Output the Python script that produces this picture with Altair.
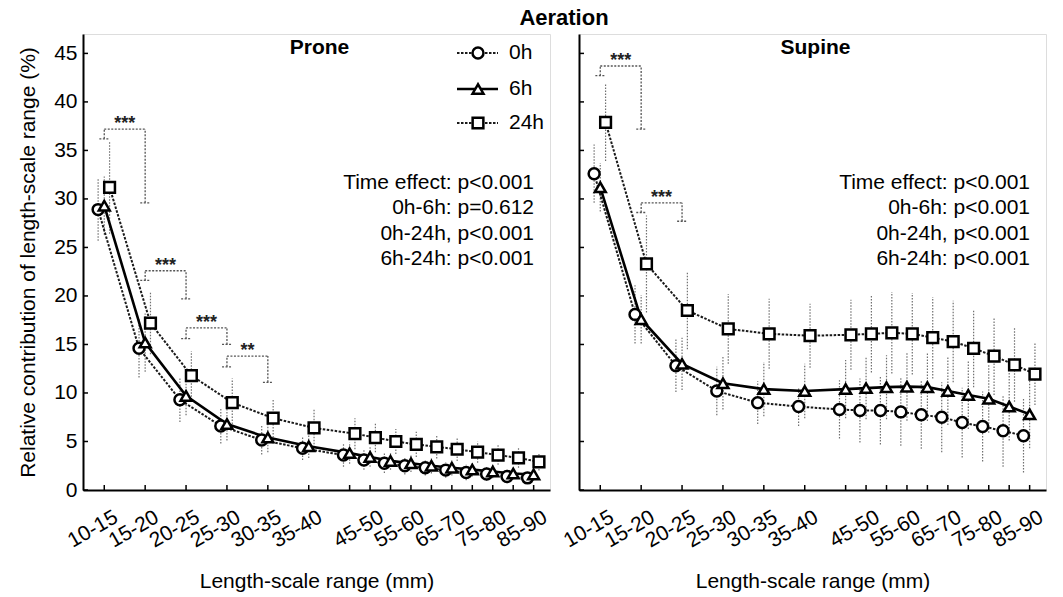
import altair as alt
import pandas as pd

# ---------------- data ----------------
categories = ["10-15", "15-20", "20-25", "25-30", "30-35", "35-40", "40-45", "45-50",
              "50-55", "55-60", "60-65", "65-70", "70-75", "75-80", "80-85", "85-90"]
cat_pos = [0, 1, 2, 3, 4, 5, 6, 6.5, 7, 7.5, 8, 8.5, 9, 9.5, 10, 10.5]
label_cats = ["10-15", "15-20", "20-25", "25-30", "30-35", "35-40",
              "45-50", "55-60", "65-70", "75-80", "85-90"]
series_names = ["0h", "6h", "24h"]

prone_0h = [28.9, 14.6, 9.3, 6.6, 5.15, 4.3, 3.6, 3.1, 2.75, 2.5, 2.3, 2.05, 1.8, 1.65, 1.4, 1.25]
prone_6h = [29.3, 15.2, 9.7, 6.8, 5.4, 4.5, 3.8, 3.4, 3.0, 2.75, 2.5, 2.3, 2.1, 1.9, 1.7, 1.6]
prone_24h = [31.2, 17.2, 11.8, 9.0, 7.4, 6.4, 5.8, 5.4, 5.0, 4.7, 4.45, 4.2, 3.9, 3.6, 3.3, 2.9]
prone_sd_0h = [3.2, 3.0, 2.3, 1.8, 1.5, 1.2, 1.2, 1.0, 1.0, 0.9, 0.8, 0.8, 0.8, 0.7, 0.7, 0.6]
prone_sd_6h = [3.0, 3.0, 2.0, 1.7, 1.5, 1.2, 1.1, 1.0, 0.9, 0.9, 0.8, 0.8, 0.7, 0.7, 0.6, 0.6]
prone_sd_24h = [4.8, 3.2, 2.5, 2.5, 2.0, 2.0, 1.6, 1.5, 1.3, 1.3, 1.2, 1.2, 1.1, 1.0, 1.0, 0.9]

supine_0h = [32.6, 18.1, 12.8, 10.2, 9.0, 8.6, 8.3, 8.2, 8.2, 8.05, 7.75, 7.5, 6.95, 6.55, 6.1, 5.6]
supine_6h = [31.2, 17.6, 13.0, 11.0, 10.4, 10.2, 10.4, 10.5, 10.6, 10.65, 10.6, 10.2, 9.8, 9.4, 8.6, 7.8]
supine_24h = [37.9, 23.3, 18.5, 16.6, 16.1, 15.9, 16.0, 16.1, 16.2, 16.1, 15.7, 15.3, 14.6, 13.8, 12.9, 11.95]
supine_sd_0h = [3.0, 3.0, 2.7, 2.5, 2.2, 2.0, 3.0, 3.3, 3.5, 3.5, 3.5, 3.6, 3.6, 3.6, 3.7, 3.8]
supine_sd_6h = [2.5, 2.5, 2.7, 2.7, 2.8, 2.8, 3.0, 3.2, 3.3, 3.5, 3.5, 3.5, 3.5, 3.5, 3.5, 3.5]
supine_sd_24h = [4.0, 5.0, 4.0, 3.6, 3.6, 3.3, 3.6, 4.0, 4.2, 4.2, 4.2, 4.2, 4.0, 4.0, 3.8, 3.2]

prone_brk_from = ["10-15", "15-20", "20-25", "25-30"]
prone_brk_to = ["15-20", "20-25", "25-30", "30-35"]
prone_brk_top = [37.2, 22.6, 16.7, 13.8]
prone_brk_low_from = [36.2, 21.6, 15.6, 12.7]
prone_brk_low_to = [29.6, 19.7, 15.0, 11.1]
prone_brk_stars = ["***", "***", "***", "**"]

supine_brk_from = ["10-15", "15-20"]
supine_brk_to = ["15-20", "20-25"]
supine_brk_top = [43.7, 29.6]
supine_brk_low_from = [42.7, 28.6]
supine_brk_low_to = [37.2, 27.7]
supine_brk_stars = ["***", "***"]

prone_stats = ["Time effect: p<0.001", "0h-6h: p=0.612", "0h-24h, p<0.001", "6h-24h: p<0.001"]
supine_stats = ["Time effect: p<0.001", "0h-6h: p<0.001", "0h-24h, p<0.001", "6h-24h: p<0.001"]

y_ticks = [0, 5, 10, 15, 20, 25, 30, 35, 40, 45]

# ---------------- style ----------------
FONT = "Liberation Sans"
W, H = 467, 456
XDOM = [-0.52, 10.9]
YDOM = [0, 47]
FS = 21

styles = {
    "0h": dict(shape="circle", dash=[2.5, 1.5], width=2.0, offset=-0.15, color="#1a1a1a", size=120),
    "6h": dict(shape="triangle-up", dash=None, width=2.6, offset=0.0, color="#000000", size=120),
    "24h": dict(shape="square", dash=[2.5, 1.5], width=2.0, offset=0.13, color="#1a1a1a", size=115),
}

pos_of = dict(zip(categories, cat_pos))
label_pos = [pos_of[c] for c in label_cats]
label_expr = "[" + ",".join("'%s'" % c for c in label_cats) + "][indexof([" + \
    ",".join(str(p) for p in label_pos) + "], datum.value)]"


def xaxis():
    return alt.Axis(values=label_pos, labelExpr=label_expr, title="Length-scale range (mm)",
                    ticks=False, grid=False, domainColor="black", domainWidth=2,
                    labelAngle=330, labelAlign="right", labelBaseline="top",
                    labelPadding=16, labelOffset=6, labelFontSize=FS, labelFont=FONT,
                    labelColor="black", labelOverlap=False, labelFlush=False,
                    titleFontSize=FS, titleFont=FONT, titleFontWeight="normal",
                    titleColor="black", titlePadding=19)


def yaxis(show):
    if show:
        return alt.Axis(values=y_ticks, title="Relative contribution of length-scale range (%)",
                        ticks=False, grid=False, domainColor="black", domainWidth=2,
                        labelFontSize=FS, labelFont=FONT, labelColor="black", labelPadding=6,
                        titleFontSize=FS, titleFont=FONT, titleFontWeight="normal",
                        titleColor="black", titlePadding=15)
    return alt.Axis(values=y_ticks, labels=False, ticks=False, grid=False, title=None,
                    domainColor="black", domainWidth=2)


def panel(vals, sds, brk, stats, title, show_y, legend=False, super_title=False):
    xs = alt.Scale(domain=XDOM, nice=False, zero=False)
    ys = alt.Scale(domain=YDOM, nice=False, zero=False)

    def X(f):
        return alt.X(f"{f}:Q", scale=xs, axis=xaxis())

    def Y(f):
        return alt.Y(f"{f}:Q", scale=ys, axis=yaxis(show_y))

    rows = []
    for s in series_names:
        for c, p, v, sd in zip(categories, cat_pos, vals[s], sds[s]):
            rows.append(dict(series=s, cat=c, x=p + styles[s]["offset"], y=v, lo=v - sd, hi=v + sd))
    df = pd.DataFrame(rows)

    layers = []
    # error bars
    layers.append(alt.Chart(df).mark_rule(color="#707070", strokeWidth=1.2, strokeDash=[1.5, 1.5])
                  .encode(x=X("x"), y=Y("lo"), y2="hi"))

    # brackets
    bdf = pd.DataFrame(dict(f=[pos_of[c] for c in brk[0]], t=[pos_of[c] for c in brk[1]],
                            top=brk[2], lf=brk[3], lt=brk[4], stars=brk[5]))
    bstyle = dict(color="#555555", strokeWidth=1.3, strokeDash=[2, 1.5])
    bb = alt.Chart(bdf)
    layers.append(bb.mark_rule(**bstyle).encode(x=X("f"), x2="t", y=Y("top")))
    layers.append(bb.mark_rule(**bstyle).encode(x=X("f"), y=Y("lf"), y2="top"))
    layers.append(bb.mark_rule(**bstyle).encode(x=X("t"), y=Y("lt"), y2="top"))
    layers.append(bb.transform_calculate(a="datum.f-0.12", b="datum.f+0.12")
                  .mark_rule(**bstyle).encode(x=X("a"), x2="b", y=Y("lf")))
    layers.append(bb.transform_calculate(a="datum.t-0.12", b="datum.t+0.12")
                  .mark_rule(**bstyle).encode(x=X("a"), x2="b", y=Y("lt")))
    layers.append(bb.transform_calculate(m="(datum.f+datum.t)/2")
                  .mark_text(font=FONT, fontSize=18, fontWeight="bold", baseline="alphabetic",
                             color="#222222")
                  .encode(x=X("m"), y=Y("top"), text="stars:N"))

    # lines and points
    for s in series_names:
        st = styles[s]
        lk = dict(color=st["color"], strokeWidth=st["width"])
        if st["dash"]:
            lk["strokeDash"] = st["dash"]
        sub = alt.Chart(df).transform_filter(alt.datum.series == s)
        layers.append(sub.mark_line(**lk).encode(x=X("x"), y=Y("y")))
    for s in series_names:
        st = styles[s]
        sub = alt.Chart(df).transform_filter(alt.datum.series == s)
        layers.append(sub.mark_point(shape=st["shape"], size=st["size"], filled=True, fill="white",
                                     stroke="black", strokeWidth=2.5, opacity=1)
                      .encode(x=X("x"), y=Y("y")))

    # inward ticks
    tdf = pd.DataFrame(dict(pos=cat_pos))
    layers.append(alt.Chart(tdf).mark_rule(color="black", strokeWidth=1.5)
                  .encode(x=X("pos"), y=alt.value(H), y2=alt.value(H - 5)))
    ydf = pd.DataFrame(dict(v=y_ticks))
    layers.append(alt.Chart(ydf).mark_rule(color="black", strokeWidth=1.5)
                  .encode(y=Y("v"), x=alt.value(0), x2=alt.value(5)))

    # stats text
    for i, line in enumerate(stats):
        layers.append(alt.Chart(pd.DataFrame({"t": [line]})).mark_text(
            font=FONT, fontSize=FS, align="right", baseline="middle", color="black")
            .encode(x=alt.value(451), y=alt.value(149 + i * 25.4), text="t:N"))

    # panel title
    layers.append(alt.Chart(pd.DataFrame({"t": [title]})).mark_text(
        font=FONT, fontSize=FS, fontWeight="bold", align="center", baseline="middle", color="black")
        .encode(x=alt.value(W / 2 + 3), y=alt.value(14), text="t:N"))

    if legend:
        ly = [19, 55, 89]
        for i, s in enumerate(series_names):
            st = styles[s]
            ldf = pd.DataFrame({"series": [s]})
            lk = dict(color=st["color"], strokeWidth=st["width"])
            if st["dash"]:
                lk["strokeDash"] = st["dash"]
            layers.append(alt.Chart(ldf).mark_rule(**lk)
                          .encode(x=alt.value(374), x2=alt.value(415), y=alt.value(ly[i])))
            layers.append(alt.Chart(ldf).mark_point(shape=st["shape"], size=st["size"], filled=True,
                                                   fill="white", stroke="black", strokeWidth=2.5,
                                                   opacity=1)
                          .encode(x=alt.value(395), y=alt.value(ly[i])))
            layers.append(alt.Chart(ldf).mark_text(font=FONT, fontSize=FS, align="left",
                                                  baseline="middle", color="black")
                          .encode(x=alt.value(426), y=alt.value(ly[i]), text="series:N"))

    if super_title:
        layers.append(alt.Chart(pd.DataFrame({"t": ["Aeration"]})).mark_text(
            font=FONT, fontSize=22, fontWeight="bold", align="center", baseline="middle",
            color="black").encode(x=alt.value(-15), y=alt.value(-16), text="t:N"))

    return alt.layer(*layers).properties(width=W, height=H)


left = panel({"0h": prone_0h, "6h": prone_6h, "24h": prone_24h},
             {"0h": prone_sd_0h, "6h": prone_sd_6h, "24h": prone_sd_24h},
             (prone_brk_from, prone_brk_to, prone_brk_top, prone_brk_low_from,
              prone_brk_low_to, prone_brk_stars),
             prone_stats, "Prone", True, legend=True)
right = panel({"0h": supine_0h, "6h": supine_6h, "24h": supine_24h},
              {"0h": supine_sd_0h, "6h": supine_sd_6h, "24h": supine_sd_24h},
              (supine_brk_from, supine_brk_to, supine_brk_top, supine_brk_low_from,
               supine_brk_low_to, supine_brk_stars),
              supine_stats, "Supine", False, super_title=True)

chart = alt.hconcat(left, right, spacing=29, bounds="flush").properties(
    padding={"left": 17, "top": 6, "right": 5, "bottom": 5}
).configure_view(stroke=None).configure(font=FONT, background="white")

chart.save("out.html", embed_options={"renderer": "svg", "actions": False})
